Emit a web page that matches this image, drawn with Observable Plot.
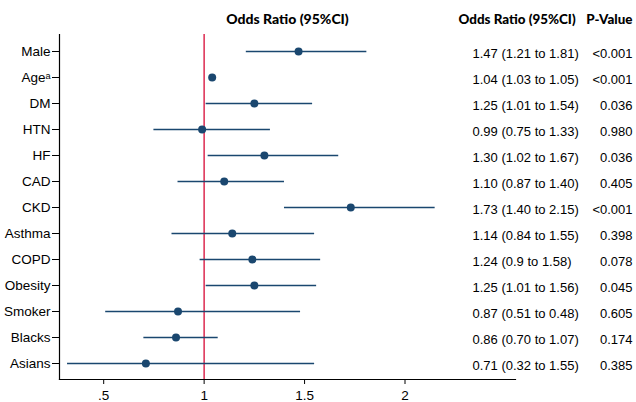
<!DOCTYPE html>
<html><head><meta charset="utf-8">
<script src="https://cdn.jsdelivr.net/npm/d3@7"></script>
<script src="https://cdn.jsdelivr.net/npm/@observablehq/plot@0.6"></script>
<style>html,body{margin:0;padding:0;background:#fff} svg{display:block}</style>
</head><body><div id="chart"></div>
<script>
const categories = ["Male","Ageᵃ","DM","HTN","HF","CAD","CKD","Asthma","COPD","Obesity","Smoker","Blacks","Asians"];
const oddsRatio = [1.47,1.04,1.25,0.99,1.30,1.10,1.73,1.14,1.24,1.25,0.87,0.86,0.71];
const ciLow  = [1.21,1.03,1.01,0.75,1.02,0.87,1.40,0.84,0.98,1.01,0.51,0.70,0.32];
const ciHigh = [1.81,1.05,1.54,1.33,1.67,1.40,2.15,1.55,1.58,1.56,1.48,1.07,1.55];
const estimateText = ["1.47 (1.21 to 1.81)","1.04 (1.03 to 1.05)","1.25 (1.01 to 1.54)","0.99 (0.75 to 1.33)","1.30 (1.02 to 1.67)","1.10 (0.87 to 1.40)","1.73 (1.40 to 2.15)","1.14 (0.84 to 1.55)","1.24 (0.9 to 1.58)","1.25 (1.01 to 1.56)","0.87 (0.51 to 0.48)","0.86 (0.70 to 1.07)","0.71 (0.32 to 1.55)"];
const pValueText = ["<0.001","<0.001","0.036","0.980","0.036","0.405","<0.001","0.398","0.078","0.045","0.605","0.174","0.385"];
const xTicks = [0.5, 1, 1.5, 2];
const refLine = [1];
const plotHeader = ["Odds Ratio (95%CI)"];
const estHeader = ["Odds Ratio (95%CI)"];
const pHeader = ["P-Value"];

const rows = categories.map((c, i) => ({cat: c, or: oddsRatio[i], lo: ciLow[i], hi: ciHigh[i], est: estimateText[i], p: pValueText[i]}));

const navy = "#1a476f";
const headFont = "Lato, 'Open Sans', sans-serif";
const fmtX = d => String(d).replace(/^0\./, ".");

const chart = Plot.plot({
  width: 636, height: 402,
  marginLeft: 59, marginRight: 121, marginTop: 34, marginBottom: 23,
  style: {fontFamily: "'Liberation Sans', Arial, sans-serif", fontSize: "13.5px", background: "#fff", color: "#000"},
  x: {domain: [0.28, 2.55], label: null},
  y: {domain: categories, label: null},
  marks: [
    Plot.frame({anchor: "left", stroke: "#000", strokeWidth: 1.2}),
    Plot.frame({anchor: "bottom", stroke: "#000", strokeWidth: 1.2}),
    Plot.ruleX(refLine, {stroke: "#dc2a50", strokeWidth: 1.5}),
    Plot.ruleY(rows, {y: "cat", x1: "lo", x2: "hi", stroke: navy, strokeWidth: 1.4}),
    Plot.dot(rows, {x: "or", y: "cat", r: 4, fill: navy, stroke: null}),
    Plot.text(rows, {y: "cat", text: "est", frameAnchor: "right", dx: -43, dy: 2.5, textAnchor: "start", fontSize: 13, fill: "#000"}),
    Plot.text(rows, {y: "cat", text: "p", frameAnchor: "right", dx: 117, dy: 2.5, textAnchor: "end", fontSize: 13, fill: "#000"}),
    Plot.text(plotHeader, {text: d => d, frameAnchor: "top", dy: -20, fontWeight: 900, fontSize: 14, fontFamily: headFont, fill: "#000"}),
    Plot.text(estHeader, {text: d => d, frameAnchor: "top-right", dx: -57, dy: -20, textAnchor: "start", fontWeight: 900, fontSize: 13.4, fontFamily: headFont, fill: "#000"}),
    Plot.text(pHeader, {text: d => d, frameAnchor: "top-right", dx: 117, dy: -20, textAnchor: "end", fontWeight: 900, fontSize: 13.4, fontFamily: headFont, fill: "#000"}),
    Plot.axisY({tickSize: 7, tickPadding: 2, fontSize: 13.5}),
    Plot.axisX({ticks: xTicks, tickFormat: fmtX, tickSize: 5, tickPadding: 6, fontSize: 13.5})
  ]
});
document.getElementById("chart").appendChild(chart);
</script>
</body></html>
